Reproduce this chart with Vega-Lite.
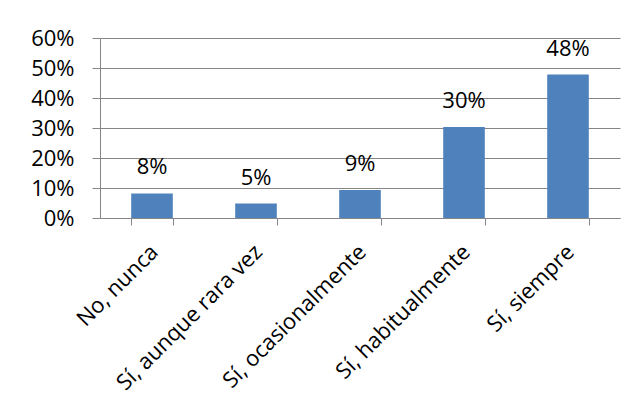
{
  "$schema": "https://vega.github.io/schema/vega-lite/v6.json",
  "autosize": {"type": "none"},
  "width": 520,
  "height": 180,
  "padding": {"left": 100, "top": 38, "right": 9, "bottom": 190},
  "background": "white",
  "data": {"values": [
    {"cat": "No, nunca", "v": 0.082},
    {"cat": "Sí, aunque rara vez", "v": 0.048},
    {"cat": "Sí, ocasionalmente", "v": 0.093},
    {"cat": "Sí, habitualmente", "v": 0.303},
    {"cat": "Sí, siempre", "v": 0.478}
  ]},
  "encoding": {
    "x": {"field": "cat", "type": "nominal", "sort": null,
      "scale": {"paddingInner": 0.6, "paddingOuter": 0.3},
      "axis": {"title": null, "labelAngle": -45, "labelFontSize": 22, "labelFont": "Open Sans", "labelColor": "black",
        "tickBand": "extent", "tickSize": 7, "tickColor": "#868686", "domainColor": "#868686", "labelPadding": 16, "labelOffset": -5, "labelLimit": 300}},
    "y": {"field": "v", "type": "quantitative",
      "scale": {"domain": [0, 0.6], "nice": false},
      "axis": {"title": null, "format": ".0%", "values": [0, 0.1, 0.2, 0.3, 0.4, 0.5, 0.6], "labelFontSize": 22, "labelFont": "Open Sans", "labelColor": "black",
        "tickSize": 8, "tickColor": "#868686", "domainColor": "#868686", "gridColor": "#868686", "gridOpacity": 1, "labelPadding": 18}}
  },
  "layer": [
    {"mark": {"type": "bar", "color": "#4F81BD"}},
    {"mark": {"type": "text", "dy": -19, "baseline": "alphabetic", "fontSize": 22, "font": "Open Sans", "color": "black"},
     "encoding": {"text": {"field": "v", "type": "quantitative", "format": ".0%"}}}
  ],
  "config": {"view": {"stroke": null}}
}
